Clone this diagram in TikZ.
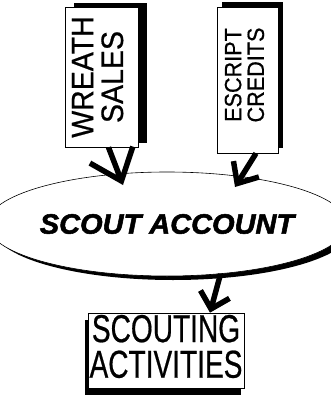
\documentclass[tikz,border=0pt]{standalone}
\usepackage{fontspec}
\setmainfont{Liberation Sans}
\newfontfamily\boxfont[FakeBold=0.6]{Liberation Sans}
\newfontface\acctfont[FakeBold=1.8]{Liberation Sans Bold Italic}
\usetikzlibrary{arrows.meta,shapes.geometric,shadows,calc}
\tikzset{
  srcbox/.style={draw,fill=white,line width=0.7pt,inner sep=0pt},
  flow/.style={line width=5.5pt,line join=miter}
}
\newcommand\boxlabel[4]{\scalebox{#3}[1]{\boxfont\fontsize{#1}{#2}\selectfont\begin{tabular}{@{}c@{}}#4\end{tabular}}}
\begin{document}
\begin{tikzpicture}[x=1pt,y=-1pt]
\useasboundingbox (0,0) rectangle (331,396);
  % Draw the source boxes
  \node[srcbox,minimum width=73pt,minimum height=140pt,
        general shadow={fill=black,shadow xshift=9pt,shadow yshift=4pt}]
        (wreath) at (101.5,77) {\rotatebox{90}{\boxlabel{31}{27}{0.92}{WREATH\\SALES}}};
  \node[srcbox,minimum width=61pt,minimum height=146pt,
        general shadow={fill=black,shadow xshift=5pt,shadow yshift=5pt}]
        (escript) at (247.5,80) {\rotatebox{90}{\hspace{10pt}\boxlabel{23.5}{21}{0.92}{ESCRIPT\\CREDITS}}};
  % Draw the account
  \node[ellipse,draw,fill=white,line width=0.6pt,inner sep=0pt,
        minimum width=314pt,minimum height=104pt,
        general shadow={fill=black,shadow xshift=6pt,shadow yshift=-4pt}]
        (acct) at (167,224) {\scalebox{1.035}[1]{\fontsize{28}{28}\acctfont SCOUT ACCOUNT}};
  % Draw the target box
  \node[srcbox,minimum width=156pt,minimum height=75pt,
        general shadow={fill=black,shadow xshift=-3pt,shadow yshift=-7pt}]
        (activ) at (166,350.5) {\boxlabel{39}{28}{0.72}{SCOUTING\\ACTIVITIES}};
  % Draw arrows
  \coordinate (tipA) at (123,185);
  \coordinate (tipB) at (235,187);
  \draw[flow,-{Straight Barb[length=28pt,width=46pt]}] ($(wreath.south)+(7,0)$) -- (tipA);
  \draw[flow,-{Straight Barb[length=17pt,width=30pt]}] ($(escript.south)+(8.5,0)$) -- (tipB);
  \draw[flow,-{Straight Barb[length=15pt,width=30pt]}] (acct.-43) -- ($(activ.north)+(44,0)$);
\end{tikzpicture}
\end{document}
